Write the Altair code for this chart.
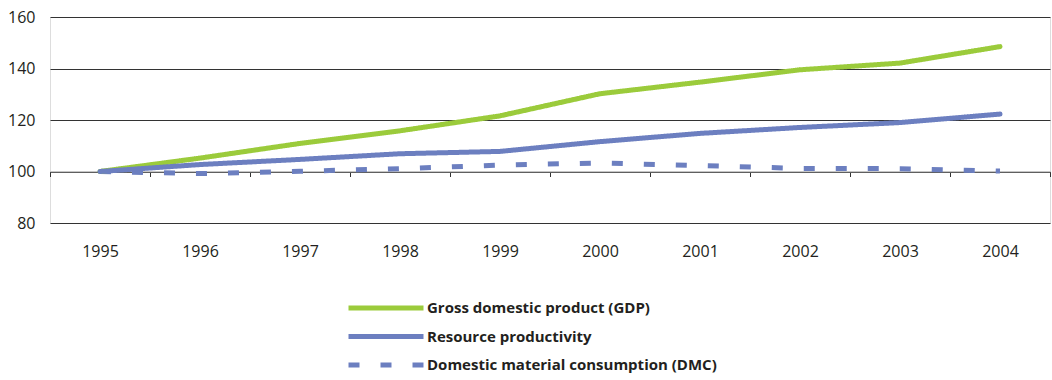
import altair as alt
import pandas as pd

# Index values, 1995 = 100
years = ["1995", "1996", "1997", "1998", "1999", "2000", "2001", "2002", "2003", "2004"]
gdp = [100, 105.2, 110.9, 115.8, 121.6, 130.2, 134.7, 139.5, 142.1, 148.5]
productivity = [100, 102.7, 104.7, 106.9, 107.8, 111.6, 114.8, 117.1, 119.0, 122.3]
dmc = [100, 99.2, 100.1, 101.1, 102.5, 103.3, 102.3, 101.2, 101.1, 100.2]

series_names = [
    "Gross domestic product (GDP)",
    "Resource productivity",
    "Domestic material consumption (DMC)",
]
series_colors = ["#9BCB3B", "#6C7FC0", "#6C7FC0"]
series_dashes = [[1, 0], [1, 0], [11, 21]]
y_ticks = [80, 100, 120, 140, 160]

rows = []
for name, values in zip(series_names, [gdp, productivity, dmc]):
    for yr, v in zip(years, values):
        rows.append({"year": yr, "value": v, "series": name})
df = pd.DataFrame(rows)

FONT = "Open Sans"
TEXT = "#231F20"

x_enc = alt.X(
    "year:O",
    sort=years,
    title=None,
    scale=alt.Scale(type="band", paddingInner=0, paddingOuter=0),
    axis=alt.Axis(
        orient="bottom",
        offset=-51.5,
        domainColor="#8C8C8C",
        domainWidth=1,
        ticks=True,
        tickBand="extent",
        tickSize=5,
        tickColor="#333333",
        labelPadding=67,
        labelAngle=0,
        labelFont=FONT,
        labelFontSize=16,
        labelColor=TEXT,
        grid=False,
    ),
)
y_enc = alt.Y(
    "value:Q",
    title=None,
    scale=alt.Scale(domain=[80, 160], nice=False, zero=False),
    axis=alt.Axis(
        values=y_ticks,
        domain=False,
        ticks=False,
        labelPadding=15,
        labelFont=FONT,
        labelFontSize=16,
        labelColor=TEXT,
        grid=True,
        gridColor="#333333",
        gridWidth=1,
    ),
)
color_enc = alt.Color(
    "series:N",
    sort=series_names,
    scale=alt.Scale(domain=series_names, range=series_colors),
    legend=alt.Legend(
        title=None,
        orient="none",
        legendX=296,
        legendY=280,
        padding=0,
        symbolType="stroke",
        symbolSize=5625,
        symbolStrokeWidth=5,
        clipHeight=22,
        rowPadding=6.5,
        labelOffset=1,
        labelFont=FONT,
        labelFontSize=15,
        labelFontWeight="bold",
        labelColor=TEXT,
        labelLimit=500,
    ),
)
dash_enc = alt.StrokeDash(
    "series:N",
    sort=series_names,
    scale=alt.Scale(domain=series_names, range=series_dashes),
    legend=None,
)

base = alt.Chart(df).encode(x=x_enc, y=y_enc, color=color_enc, strokeDash=dash_enc)

solid = base.transform_filter(
    alt.FieldOneOfPredicate(field="series", oneOf=series_names[:2])
).mark_line(strokeWidth=5, strokeCap="round", strokeJoin="round")

dashed = base.transform_filter(
    alt.FieldEqualPredicate(field="series", equal=series_names[2])
).mark_line(strokeWidth=5, strokeCap="butt")

chart = (
    alt.layer(dashed, solid)
    .properties(
        width=1000,
        height=206,
        autosize=alt.AutoSizeParams(type="none"),
        padding={"left": 50, "top": 17, "right": 2, "bottom": 157},
    )
    .configure_view(stroke=None)
    .configure(background="white")
)

chart.save("out.html", embed_options={"renderer": "svg", "actions": False})
